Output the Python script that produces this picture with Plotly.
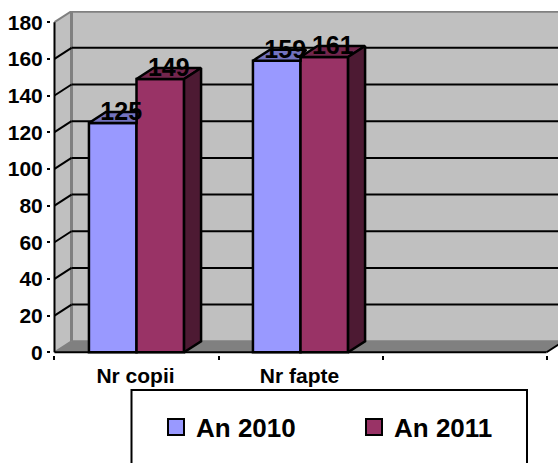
import plotly.graph_objects as go

categories = ["Nr copii", "Nr fapte"]
an_2010 = [125, 159]
an_2011 = [149, 161]
series_names = ["An 2010", "An 2011"]
y_ticks = [0, 20, 40, 60, 80, 100, 120, 140, 160, 180]

FONT = "Liberation Sans, Arial, sans-serif"
BLUE, BLUE_TOP = "#9999FF", "#7373BF"
MAROON, MAROON_TOP, MAROON_SIDE = "#993366", "#73264D", "#4D1A33"
WALL, FLOOR, EDGE = "#C0C0C0", "#808080", "#808080"

# 3D depth, expressed in axis units
DX, DY = 0.1037, 6.0
N_SLOTS = 3
BAR_W = 0.29
LABEL_DROP = 2.0
OUTLINE = 2.5
centers = [i + 0.5 for i in range(len(categories))]


def poly(pts, **kw):
    path = "M" + "L".join(f"{x},{y}" for x, y in pts) + "Z"
    return dict(type="path", path=path, xref="x", yref="y", **kw)


def seg(x0, y0, x1, y1, color="black", width=2, layer="below"):
    return dict(type="line", x0=x0, y0=y0, x1=x1, y1=y1, xref="x", yref="y",
                line=dict(color=color, width=width), layer=layer)


shapes = [
    poly([(0, 0), (DX, DY), (DX, 180 + DY), (0, 180)], fillcolor=WALL, line_width=0, layer="below"),
    poly([(DX, DY), (N_SLOTS + DX, DY), (N_SLOTS + DX, 180 + DY), (DX, 180 + DY)],
         fillcolor=WALL, line_width=0, layer="below"),
    poly([(0, 0), (DX, DY), (N_SLOTS + DX, DY), (N_SLOTS, 0)], fillcolor=FLOOR, line_width=0, layer="below"),
    seg(DX, DY, DX, 180 + DY, EDGE, 3),
    seg(DX, 180 + DY, N_SLOTS + DX, 180 + DY, EDGE, 3),
    seg(0, 180, DX, 180 + DY, EDGE, 2),
    seg(DX, DY, N_SLOTS + DX, DY, EDGE, 2),
    seg(0, 0, DX, DY, EDGE, 2),
]
for t in y_ticks[1:-1]:
    shapes.append(seg(0, t, DX, t + DY))
    shapes.append(seg(DX, t + DY, N_SLOTS + DX, t + DY))
shapes += [
    seg(0, 0, 0, 180, layer="above"),
    seg(0, 0, N_SLOTS, 0, layer="above"),
    seg(N_SLOTS, 0, N_SLOTS + DX, DY, layer="above"),
    dict(type="rect", xref="paper", yref="paper",
         x0=(131.5 - 51) / 507, x1=(527 - 51) / 507,
         y0=-0.45, y1=(463 - 108 - 390) / 344,
         line=dict(color="black", width=2), fillcolor="white", layer="above"),
]

fig = go.Figure()
fig.add_bar(x=centers, y=an_2010, name=series_names[0],
            marker=dict(color=BLUE, line=dict(color="black", width=OUTLINE)), showlegend=False)
fig.add_bar(x=centers, y=an_2011, name=series_names[1],
            marker=dict(color=MAROON, line=dict(color="black", width=OUTLINE)), showlegend=False)


def face(xs, ys, color):
    fig.add_scatter(x=xs + xs[:1], y=ys + ys[:1], mode="lines", fill="toself", fillcolor=color,
                    line=dict(color="black", width=OUTLINE), showlegend=False, hoverinfo="skip")


for c, v, w in zip(centers, an_2010, an_2011):
    x0, x1 = c - BAR_W, c
    gap = w - v
    if gap >= DY:
        face([x0, x0 + DX, x1, x1], [v, v + DY, v + DY, v], BLUE_TOP)
    else:
        face([x0, x0 + DX, x1 + DX * gap / DY, x1, x1], [v, v + DY, v + DY, w, v], BLUE_TOP)

for c, w in zip(centers, an_2011):
    x0, x1 = c, c + BAR_W
    face([x0, x0 + DX, x1 + DX, x1], [w, w + DY, w + DY, w], MAROON_TOP)
    face([x1, x1 + DX, x1 + DX, x1], [w, w + DY, DY, 0], MAROON_SIDE)

for vals, off in ((an_2010, -BAR_W / 2 + DX / 2), (an_2011, BAR_W / 2 + DX / 2)):
    fig.add_scatter(x=[c + off for c in centers], y=[v - LABEL_DROP for v in vals], mode="text",
                    text=[str(v) for v in vals], textposition="top center",
                    textfont=dict(family=FONT, size=25, color="black", weight="bold"),
                    showlegend=False, hoverinfo="skip", cliponaxis=False)

for name, col in zip(series_names, (BLUE, MAROON)):
    fig.add_scatter(x=[None], y=[None], mode="markers", name=name,
                    marker=dict(symbol="square", size=16, color=col, line=dict(color="black", width=2)))

fig.update_layout(
    width=558, height=463, autosize=False,
    margin=dict(l=51, r=0, t=11, b=108, autoexpand=False),
    paper_bgcolor="white", plot_bgcolor="white",
    barmode="group", bargap=1 - 2 * BAR_W, bargroupgap=0,
    shapes=shapes,
    font=dict(family=FONT, color="black"),
    legend=dict(orientation="h", x=(156 - 51) / 507, xanchor="left", y=(463 - 108 - 427) / 344, yanchor="middle",
                bgcolor="rgba(0,0,0,0)", borderwidth=0, entrywidth=153, entrywidthmode="pixels",
                itemsizing="trace", font=dict(size=26, weight="bold", family=FONT)),
    xaxis=dict(range=[-0.0213, 3.07], tickmode="array", tickvals=centers, ticktext=categories,
               ticks="", showgrid=False, zeroline=False, showline=False,
               tickfont=dict(size=21, weight="bold", family=FONT), ticklabelstandoff=6, ticklabelshift=-1,
               minor=dict(tick0=0, dtick=1, ticks="outside", ticklen=4, tickwidth=2, tickcolor="black", showgrid=False)),
    yaxis=dict(range=[-1.5, 186.1], tickmode="array", tickvals=y_ticks, ticks="outside", ticklen=3, tickwidth=2,
               tickcolor="black", showgrid=False, zeroline=False, showline=False,
               tickfont=dict(size=21, weight="bold", family=FONT), ticklabelstandoff=0),
)

fig.write_html("out.html", config={"displayModeBar": False},
               post_script="document.body.style.margin='0';document.body.style.overflow='hidden';")
